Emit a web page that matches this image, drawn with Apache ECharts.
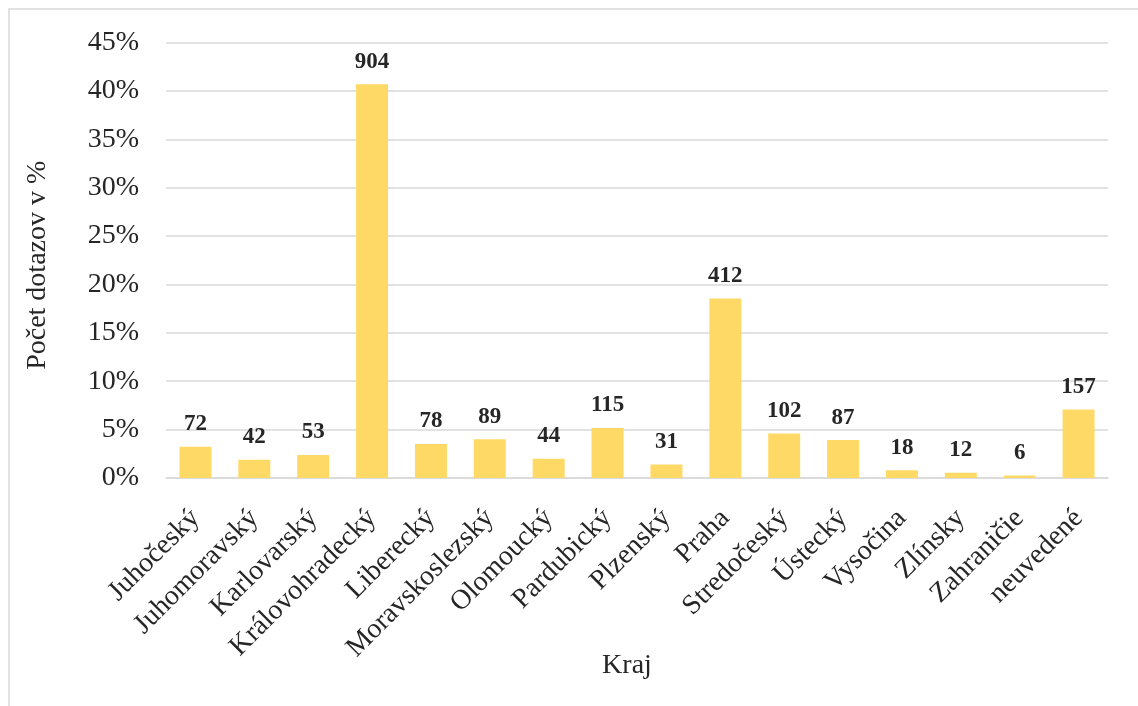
<!DOCTYPE html>
<html>
<head>
<meta charset="utf-8">
<style>
  html, body { margin: 0; padding: 0; background: #ffffff; }
  #chart { width: 1138px; height: 706px; }
</style>
<script src="https://cdn.jsdelivr.net/npm/echarts@6/dist/echarts.min.js"></script>
</head>
<body>
<div id="chart"></div>
<script>
// Regions (kraje) and number of queries per region
const regions = [
  'Juhočeský', 'Juhomoravský', 'Karlovarský', 'Královohradecký', 'Liberecký',
  'Moravskoslezský', 'Olomoucký', 'Pardubický', 'Plzenský', 'Praha',
  'Stredočeský', 'Ústecký', 'Vysočina', 'Zlínsky', 'Zahraničie', 'neuvedené'
];
const queryCounts = [72, 42, 53, 904, 78, 89, 44, 115, 31, 412, 102, 87, 18, 12, 6, 157];

// Bar height is each region's share of all queries, in percent
const totalQueries = queryCounts.reduce((a, b) => a + b, 0);
const sharePercent = queryCounts.map(c => c / totalQueries * 100);

const FONT = '"Liberation Serif", "DejaVu Serif", serif';
const chart = echarts.init(document.getElementById('chart'), null, { renderer: 'canvas' });

chart.setOption({
  animation: false,
  backgroundColor: '#ffffff',
  textStyle: { fontFamily: FONT },
  graphic: [{
    type: 'rect',
    shape: { x: 9, y: 9, width: 1200, height: 760 },
    style: { fill: 'none', stroke: '#d9d9d9', lineWidth: 1.5 },
    silent: true
  }],
  grid: { left: 166, right: 30, top: 42.5, bottom: 228 },
  xAxis: {
    type: 'category',
    data: regions,
    name: 'Kraj',
    nameLocation: 'middle',
    nameGap: 174,
    nameMoveOverlap: false,
    nameTextStyle: { fontFamily: FONT, fontSize: 28, color: '#262626', padding: [0, 20, 0, 0] },
    axisLine: { show: true, lineStyle: { color: '#d9d9d9', width: 1.5 } },
    axisTick: { show: false },
    axisLabel: {
      interval: 0,
      rotate: 45,
      margin: 36,
      fontFamily: FONT,
      fontSize: 28,
      color: '#262626'
    }
  },
  yAxis: {
    type: 'value',
    min: 0,
    max: 45,
    interval: 5,
    name: 'Počet dotazov v %',
    nameLocation: 'middle',
    nameGap: 114,
    nameRotate: 90,
    nameMoveOverlap: false,
    nameTextStyle: { fontFamily: FONT, fontSize: 28, color: '#262626', padding: [0, 10, 0, 0] },
    axisLine: { show: false },
    axisTick: { show: false },
    axisLabel: {
      margin: 27,
      fontFamily: FONT,
      fontSize: 28,
      color: '#262626',
      formatter: v => v + '%'
    },
    splitLine: { lineStyle: { color: '#d9d9d9', width: 1.5 } }
  },
  series: [{
    type: 'bar',
    data: sharePercent,
    barWidth: 32,
    itemStyle: { color: '#FFD966' },
    label: {
      show: true,
      position: 'top',
      distance: 11,
      fontFamily: FONT,
      fontWeight: 'bold',
      fontSize: 23,
      color: '#262626',
      formatter: p => queryCounts[p.dataIndex]
    }
  }]
});
</script>
</body>
</html>
